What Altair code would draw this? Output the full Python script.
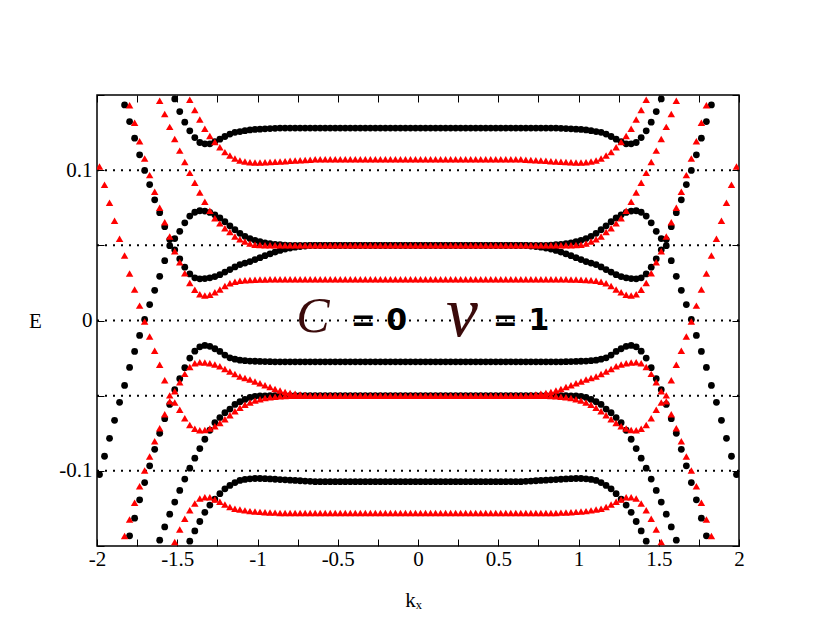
import altair as alt
import pandas as pd

# |k| sampling grid (positive half; the spectrum is symmetric in k)
K = [0.0156, 0.0469, 0.0781, 0.1094, 0.1406, 0.1719, 0.2031, 0.2344, 0.2656, 0.2969,
     0.3281, 0.3594, 0.3906, 0.4219, 0.4531, 0.4844, 0.5156, 0.5469, 0.5781, 0.6094,
     0.6406, 0.6719, 0.7031, 0.7344, 0.7656, 0.7969, 0.8281, 0.8594, 0.8906, 0.9219,
     0.9531, 0.9844, 1.0156, 1.0469, 1.0781, 1.1094, 1.1406, 1.1719, 1.2031, 1.2344,
     1.2656, 1.2969, 1.3281, 1.3594, 1.3906, 1.4219, 1.4531, 1.4844, 1.5156, 1.5469,
     1.5781, 1.6094, 1.6406, 1.6719, 1.7031, 1.7344, 1.7656, 1.7969, 1.8281, 1.8594,
     1.8906, 1.9219, 1.9531, 1.9844]

# black (circles) bands, E at each |k|
B1 = [0.128] * 28 + [0.1278, 0.1277, 0.1275, 0.1273, 0.1271, 0.1268, 0.1263, 0.1257, 0.1252, 0.1240,
                     0.1224, 0.1206, 0.1190, 0.1175, 0.1175, 0.1184, 0.1217, 0.1262, 0.1319, 0.1390,
                     0.1474, 0.1570] + [None] * 14
B2 = [0.050] * 26 + [0.0502, 0.0504, 0.0507, 0.0511, 0.0516, 0.0524, 0.0533, 0.0545, 0.0560, 0.0580,
                     0.0604, 0.0630, 0.0657, 0.0682, 0.0703, 0.0719, 0.0728, 0.0730, 0.0720, 0.0695,
                     0.0650, 0.0593, 0.0545, 0.0498, 0.0398, 0.0294, 0.0201, 0.0106, 0.0007, -0.0099,
                     -0.0206, -0.0312, -0.0432, -0.0544, -0.0664, -0.0784, -0.0903, -0.1025]
B3 = [0.050] * 22 + [0.0495, 0.0492, 0.0488, 0.0482, 0.0475, 0.0466, 0.0455, 0.0443, 0.0431, 0.0418,
                     0.0405, 0.0392, 0.0382, 0.0372, 0.0356, 0.0339, 0.0322, 0.0305, 0.0292, 0.0284,
                     0.0279, 0.0277, 0.0284, 0.0310, 0.0355, 0.0410, 0.0470, 0.0538, 0.0624, 0.0717,
                     0.0803, 0.0904, 0.0998, 0.1102, 0.1213, 0.1323, 0.1434, 0.1545] + [None] * 4
B4 = [-0.0275] * 29 + [-0.0274, -0.0273, -0.0272, -0.0271, -0.0270, -0.0267, -0.0264, -0.0257, -0.0248,
                       -0.0230, -0.0206, -0.0188, -0.0172, -0.0166, -0.0175, -0.0204, -0.0250, -0.0314,
                       -0.0387, -0.0460, -0.0558, -0.0653, -0.0750, -0.0857, -0.0967, -0.1078, -0.1193,
                       -0.1315, -0.1432, -0.1550] + [None] * 5
B5 = [-0.050] * 30 + [-0.0501, -0.0502, -0.0504, -0.0512, -0.0525, -0.0540, -0.0558, -0.0589, -0.0613,
                      -0.0646, -0.0680, -0.0730, -0.0790, -0.0852, -0.0916, -0.0982, -0.1055, -0.1130,
                      -0.1208, -0.1288, -0.1373, -0.1461, -0.1550] + [None] * 11
B6 = [-0.1072] * 21 + [-0.1070, -0.1068, -0.1066, -0.1064, -0.1062, -0.1060, -0.1058, -0.1056, -0.1054,
                       -0.1052, -0.1051, -0.1051, -0.1053, -0.1057, -0.1064, -0.1078, -0.1097, -0.1120,
                       -0.1152, -0.1188, -0.1228, -0.1276, -0.1337, -0.1400, -0.1468, -0.1550] + [None] * 17

# red (triangles) bands
R1 = [-0.128] * 28 + [-0.1278, -0.1277, -0.1275, -0.1273, -0.1271, -0.1268, -0.1263, -0.1257, -0.1252, -0.1240,
                      -0.1224, -0.1206, -0.1190, -0.1175, -0.1175, -0.1184, -0.1217, -0.1262, -0.1319, -0.1390,
                      -0.1474, -0.1570] + [None] * 14
R2 = [-0.050] * 26 + [-0.0502, -0.0504, -0.0507, -0.0511, -0.0516, -0.0524, -0.0533, -0.0545, -0.0560, -0.0580,
                      -0.0604, -0.0630, -0.0657, -0.0682, -0.0703, -0.0719, -0.0728, -0.0730, -0.0720, -0.0695,
                      -0.0650, -0.0593, -0.0545, -0.0498, -0.0398, -0.0294, -0.0201, -0.0106, -0.0007, 0.0099,
                      0.0206, 0.0312, 0.0432, 0.0544, 0.0664, 0.0784, 0.0903, 0.1025]
R3 = [-0.050] * 22 + [-0.0495, -0.0492, -0.0488, -0.0482, -0.0475, -0.0466, -0.0455, -0.0443, -0.0431, -0.0418,
                      -0.0405, -0.0392, -0.0382, -0.0372, -0.0356, -0.0339, -0.0322, -0.0305, -0.0292, -0.0284,
                      -0.0279, -0.0277, -0.0284, -0.0310, -0.0355, -0.0410, -0.0470, -0.0538, -0.0624, -0.0717,
                      -0.0803, -0.0904, -0.0998, -0.1102, -0.1213, -0.1323, -0.1434, -0.1545] + [None] * 4
R4 = [0.0275] * 29 + [0.0274, 0.0273, 0.0272, 0.0271, 0.0270, 0.0267, 0.0264, 0.0257, 0.0248,
                      0.0230, 0.0206, 0.0188, 0.0172, 0.0166, 0.0175, 0.0204, 0.0250, 0.0314,
                      0.0387, 0.0460, 0.0558, 0.0653, 0.0750, 0.0857, 0.0967, 0.1078, 0.1193,
                      0.1315, 0.1432, 0.1550] + [None] * 5
R5 = [0.050] * 30 + [0.0501, 0.0502, 0.0504, 0.0512, 0.0525, 0.0540, 0.0558, 0.0589, 0.0613,
                     0.0646, 0.0680, 0.0730, 0.0790, 0.0852, 0.0916, 0.0982, 0.1055, 0.1130,
                     0.1208, 0.1288, 0.1373, 0.1461, 0.1550] + [None] * 11
R6 = [0.1072] * 21 + [0.1070, 0.1068, 0.1066, 0.1064, 0.1062, 0.1060, 0.1058, 0.1056, 0.1054,
                      0.1052, 0.1051, 0.1051, 0.1053, 0.1057, 0.1064, 0.1078, 0.1097, 0.1120,
                      0.1152, 0.1188, 0.1228, 0.1276, 0.1337, 0.1400, 0.1468, 0.1550] + [None] * 17

HLINES = [-0.1, -0.05, 0.0, 0.05, 0.1]
X_TICKS = [-2, -1.75, -1.5, -1.25, -1, -0.75, -0.5, -0.25, 0, 0.25, 0.5, 0.75, 1, 1.25, 1.5, 1.75, 2]
Y_TICKS = [-0.15, -0.1, -0.05, 0.0, 0.05, 0.1, 0.15]

SCRIPT_TEXT = ["C", "ν"]
SCRIPT_K = [-0.654, 0.274]
SCRIPT_E = [-0.0075, -0.0105]
SCRIPT_SIZE = [50, 72]
EQ_TEXT = ["= 0", "= 1"]
EQ_K = [-0.243, 0.642]
EQ_E = [-0.0060, -0.0060]


def build(bands):
    rows = []
    for b in bands:
        for k, e in zip(K, b):
            if e is None:
                continue
            rows.append({"k": -k, "E": e})
            rows.append({"k": k, "E": e})
    return pd.DataFrame(rows)


black = build([B1, B2, B3, B4, B5, B6])
red = build([R1, R2, R3, R4, R5, R6])

xs = alt.Scale(domain=[-2, 2], nice=False, zero=False)
ys = alt.Scale(domain=[-0.15, 0.15], nice=False, zero=False)

FONT = "Liberation Serif"

x_bottom = alt.Axis(values=X_TICKS, orient="bottom", offset=-7, tickSize=7, domain=False, grid=False,
                    labelExpr="abs(datum.value*2 - round(datum.value*2)) < 0.001 ? toString(datum.value) : ''",
                    labelFont=FONT, labelFontSize=21, labelPadding=2, labelColor="black",
                    labelFlush=False, labelOverlap=False,
                    tickColor="black", title="kₓ", titleFont=FONT, titleFontSize=21,
                    titleFontWeight="normal", titleX=316, titleY=50, titleColor="black")
y_left = alt.Axis(values=Y_TICKS, orient="left", offset=-7, tickSize=7, domain=False, grid=False,
                  labelExpr="abs(datum.value*10 - round(datum.value*10)) < 0.001 && abs(datum.value) < 0.12 ? toString(round(datum.value*10)/10) : ''",
                  labelFont=FONT, labelFontSize=21, labelPadding=5, labelColor="black",
                  labelFlush=False, labelOverlap=False,
                  tickColor="black", title="E", titleFont=FONT, titleFontSize=21, titleAngle=0,
                  titleFontWeight="normal", titleX=-69, titleY=226, titleAlign="center",
                  titleBaseline="middle", titleColor="black")
x_top = alt.Axis(values=X_TICKS, orient="top", offset=-7, tickSize=7, domain=False, grid=False,
                 labels=False, title=None, tickColor="black")
y_right = alt.Axis(values=Y_TICKS, orient="right", offset=-7, tickSize=7, domain=False, grid=False,
                   labels=False, title=None, tickColor="black")

hl = alt.Chart(pd.DataFrame({"E": HLINES})).mark_rule(
    color="black", strokeDash=[2, 6], strokeWidth=2
).encode(y=alt.Y("E:Q", scale=ys, axis=None))

pts_black = alt.Chart(black).mark_point(
    shape="circle", filled=True, color="black", size=46, opacity=1, clip=True
).encode(x=alt.X("k:Q", scale=xs, axis=x_bottom), y=alt.Y("E:Q", scale=ys, axis=y_left))

pts_red = alt.Chart(red).mark_point(
    shape="triangle-up", filled=True, color="#ff0000", size=56, opacity=1, clip=True
).encode(x=alt.X("k:Q", scale=xs, axis=x_top), y=alt.Y("E:Q", scale=ys, axis=y_right))

script_df = pd.DataFrame({"t": SCRIPT_TEXT, "k": SCRIPT_K, "E": SCRIPT_E, "s": SCRIPT_SIZE})
eq_df = pd.DataFrame({"t": EQ_TEXT, "k": EQ_K, "E": EQ_E})

ann_script = alt.Chart(script_df).mark_text(
    font=FONT, fontStyle="italic", color="#3b0b0b", baseline="alphabetic", align="center"
).encode(x=alt.X("k:Q", scale=xs, axis=None), y=alt.Y("E:Q", scale=ys, axis=None), text="t:N",
         size=alt.Size("s:Q", scale=None, legend=None))
ann_eq = alt.Chart(eq_df).mark_text(
    font="DejaVu Sans", fontWeight="bold", fontSize=30, color="black", baseline="alphabetic", align="center"
).encode(x=alt.X("k:Q", scale=xs, axis=None), y=alt.Y("E:Q", scale=ys, axis=None), text="t:N")

chart = alt.layer(hl, pts_black, pts_red, ann_script, ann_eq).resolve_axis(
    x="independent", y="independent"
).properties(
    width=642, height=451,
    autosize=alt.AutoSizeParams(type="none"),
    padding={"left": 89, "top": 87, "right": 70, "bottom": 80},
    background="white",
).configure_view(stroke="black", strokeWidth=1.5, fill=None)

chart.save("out.html", embed_options={"renderer": "svg", "actions": False})
